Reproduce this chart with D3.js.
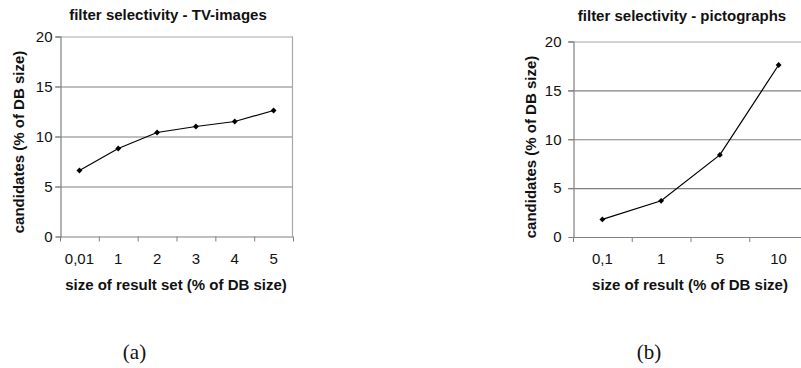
<!DOCTYPE html>
<html>
<head>
<meta charset="utf-8">
<script src="https://cdn.jsdelivr.net/npm/d3@7"></script>
<style>
  body { margin: 0; background: #fff; }
  svg { display: block; }
  text { font-family: "Liberation Sans", Arial, sans-serif; fill: #111; }
</style>
</head>
<body>
<script>
// chart (a): TV-images
var catsA = ["0,01", "1", "2", "3", "4", "5"];
var valsA = [6.6, 8.8, 10.4, 11.0, 11.5, 12.6];
// chart (b): pictographs
var catsB = ["0,1", "1", "5", "10"];
var valsB = [1.8, 3.7, 8.4, 17.6];
var yTicks = [0, 5, 10, 15, 20];

var svg = d3.select('body').append('svg').attr('width', 801).attr('height', 368);

function drawPanel(cfg) {
  var x = d3.scaleBand().domain(cfg.cats).range([cfg.left, cfg.right]);
  var y = d3.scaleLinear().domain([0, 20]).range([cfg.bottom, cfg.top]);
  var g = svg.append('g');

  // gridlines (5,10,15) darker, top border lighter
  g.selectAll('line.grid').data(yTicks.filter(function (d) { return d > 0; }))
    .enter().append('line')
    .attr('x1', cfg.left - 5).attr('x2', cfg.right)
    .attr('y1', function (d) { return y(d) + 0.5; })
    .attr('y2', function (d) { return y(d) + 0.5; })
    .attr('stroke', function (d) { return d === 20 ? '#a8a8a8' : '#808080'; })
    .attr('stroke-width', 1.2);

  // right border
  g.append('line')
    .attr('x1', cfg.right - 0.5).attr('x2', cfg.right - 0.5)
    .attr('y1', y(20)).attr('y2', y(0))
    .attr('stroke', '#a8a8a8').attr('stroke-width', 1.2);

  // y axis
  var yAxis = d3.axisLeft(y).tickValues(yTicks).tickSize(5).tickPadding(cfg.yPad);
  var ya = g.append('g').attr('transform', 'translate(' + (cfg.left + 0.5) + ',0)').call(yAxis);
  ya.attr('font-family', null);
  ya.select('.domain').attr('stroke', '#808080').attr('stroke-width', 1.2);
  ya.selectAll('.tick line').attr('stroke', '#808080');
  ya.selectAll('.tick text').attr('font-size', 15).attr('fill', '#222');

  // x axis: ticks at band boundaries
  g.append('line')
    .attr('x1', cfg.left).attr('x2', cfg.right)
    .attr('y1', y(0) + 0.5).attr('y2', y(0) + 0.5)
    .attr('stroke', '#808080').attr('stroke-width', 1.2);
  var bounds = cfg.cats.map(function (c) { return x(c); }).concat([cfg.right]);
  g.selectAll('line.xt').data(bounds).enter().append('line')
    .attr('x1', function (d) { return d + 0.5; }).attr('x2', function (d) { return d + 0.5; })
    .attr('y1', y(0)).attr('y2', y(0) + 5)
    .attr('stroke', '#808080');
  g.selectAll('text.xl').data(cfg.cats).enter().append('text')
    .attr('x', function (d) { return x(d) + x.bandwidth() / 2; })
    .attr('y', 263.5)
    .attr('text-anchor', 'middle').attr('font-size', 15).attr('fill', '#222')
    .text(function (d) { return d; });

  // line + diamond markers
  var pts = cfg.cats.map(function (c, i) { return [x(c) + x.bandwidth() / 2, y(cfg.vals[i])]; });
  g.append('path').datum(pts)
    .attr('d', d3.line())
    .attr('fill', 'none').attr('stroke', '#000').attr('stroke-width', 1.2);
  g.selectAll('path.mk').data(pts).enter().append('path')
    .attr('d', d3.symbol(d3.symbolDiamond2, 22))
    .attr('transform', function (d) { return 'translate(' + d[0] + ',' + d[1] + ')'; })
    .attr('fill', '#000');

  // titles
  g.append('text').attr('x', cfg.titleX).attr('y', cfg.titleY)
    .attr('text-anchor', 'middle').attr('font-size', 15).attr('font-weight', 'bold')
    .text(cfg.title);
  g.append('text').attr('x', cfg.xTitleX).attr('y', 290)
    .attr('text-anchor', 'middle').attr('font-size', 15).attr('font-weight', 'bold')
    .text(cfg.xTitle);
  g.append('text')
    .attr('transform', 'translate(' + cfg.yTitleX + ',' + cfg.yTitleY + ') rotate(-90)')
    .attr('text-anchor', 'middle').attr('font-size', 15).attr('font-weight', 'bold')
    .text('candidates (% of DB size)');

  // caption
  svg.append('text').attr('x', cfg.capX).attr('y', 359)
    .attr('text-anchor', 'middle').attr('font-size', 21)
    .style('font-family', '"Liberation Serif", "DejaVu Serif", serif')
    .text(cfg.caption);
}

drawPanel({
  cats: catsA, vals: valsA,
  left: 60, right: 293, top: 36.5, bottom: 236.5, yPad: 3,
  title: 'filter selectivity - TV-images', titleX: 168, titleY: 20,
  xTitle: 'size of result set (% of DB size)', xTitleX: 176,
  yTitleX: 24, yTitleY: 142,
  caption: '(a)', capX: 134.5
});

drawPanel({
  cats: catsB, vals: valsB,
  left: 573, right: 808, top: 41.5, bottom: 237, yPad: 7,
  title: 'filter selectivity - pictographs', titleX: 682, titleY: 20.5,
  xTitle: 'size of result (% of DB size)', xTitleX: 690,
  yTitleX: 536, yTitleY: 147,
  caption: '(b)', capX: 649
});
</script>
</body>
</html>
